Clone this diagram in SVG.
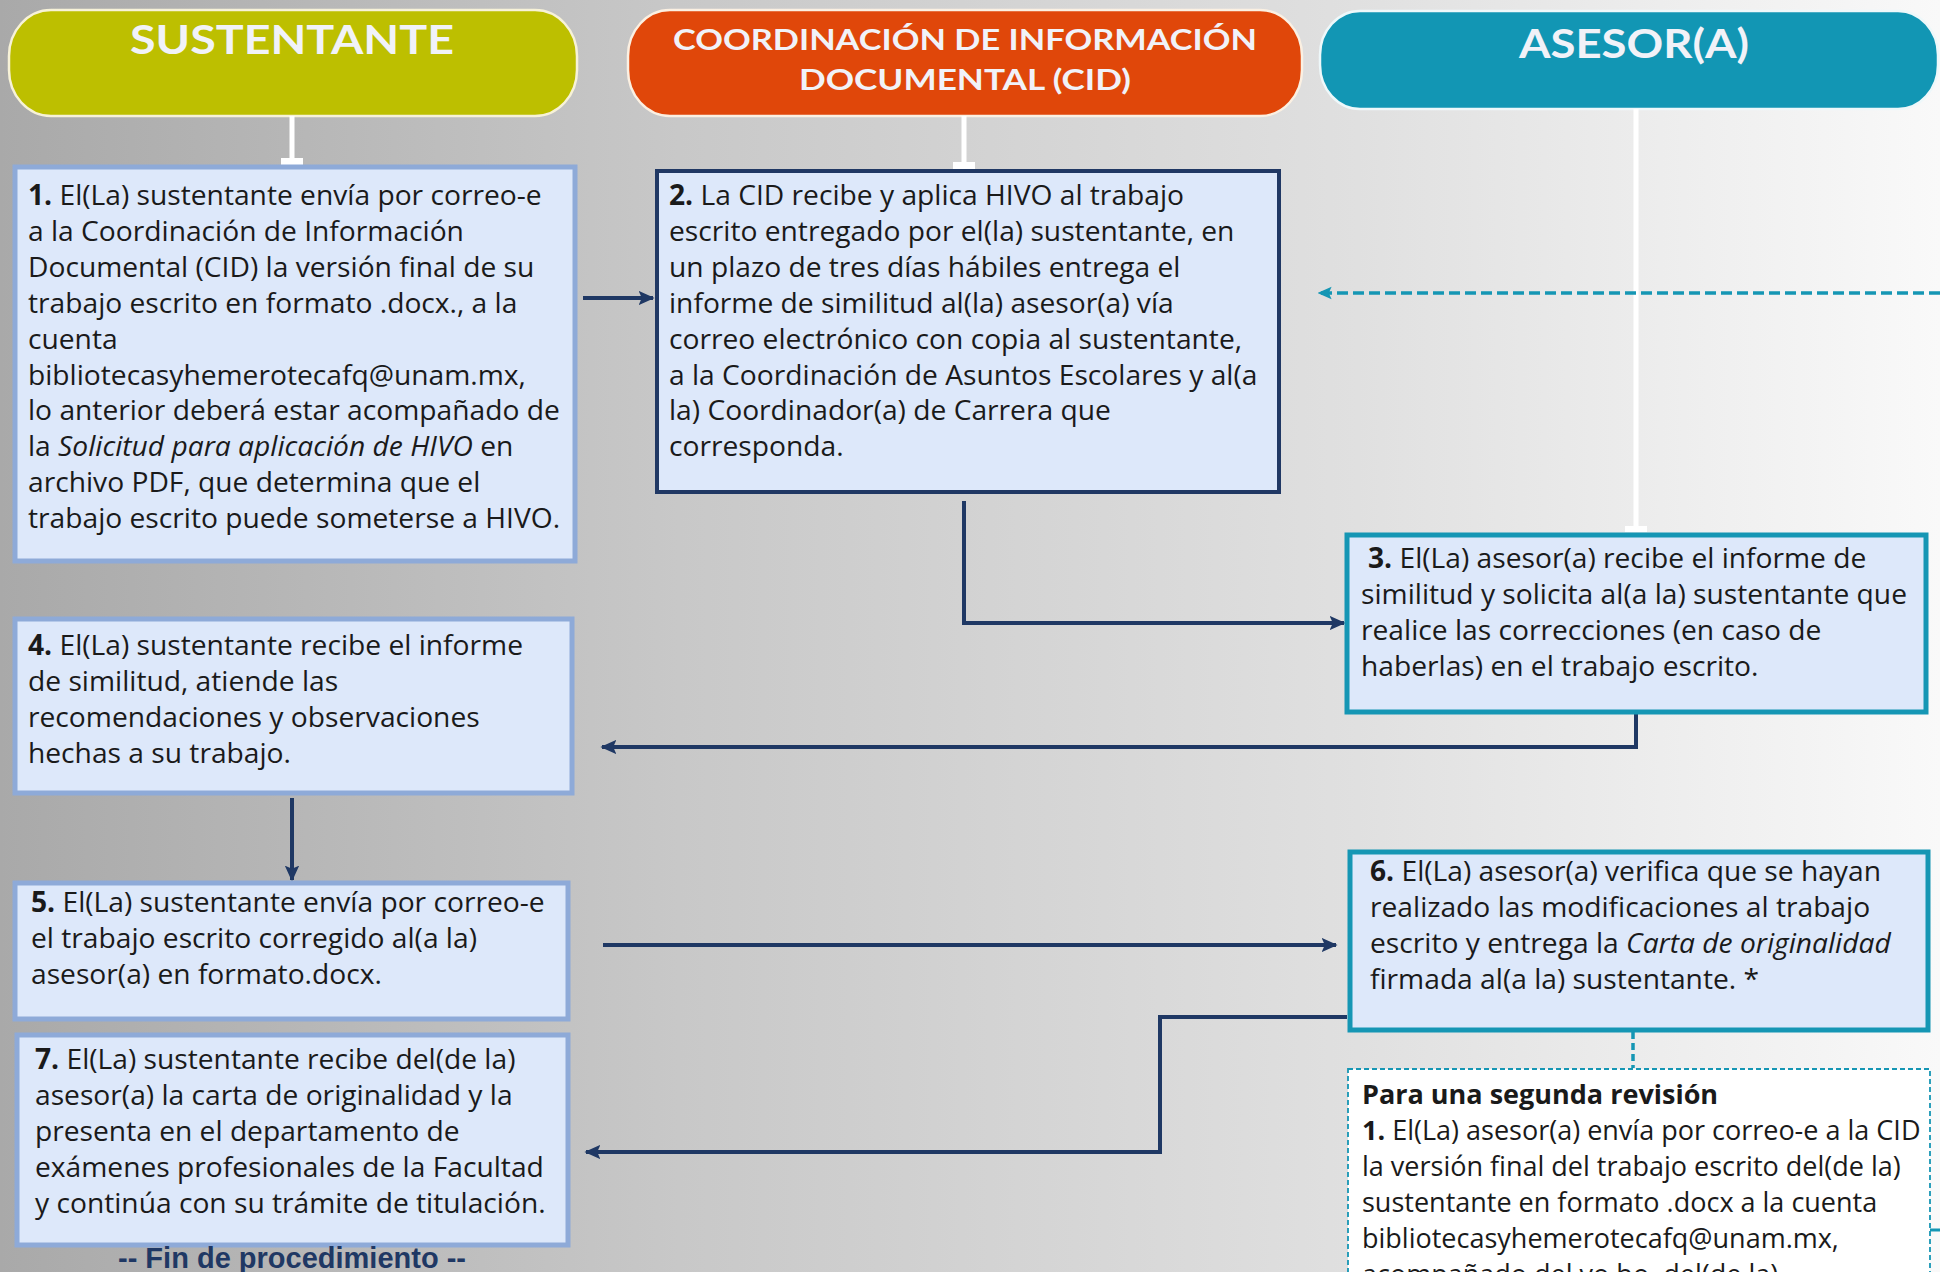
<svg xmlns="http://www.w3.org/2000/svg" width="1940" height="1272" viewBox="0 0 1940 1272">
<defs>
<linearGradient id="bg" x1="0" y1="0" x2="1" y2="0">
<stop offset="0" stop-color="#a9a9a9"/>
<stop offset="0.35" stop-color="#c8c8c8"/>
<stop offset="0.7" stop-color="#e0e0e0"/>
<stop offset="1" stop-color="#f9f9f9"/>
</linearGradient>
<marker id="arr" viewBox="0 0 10 10" refX="9" refY="5" markerWidth="16" markerHeight="16" markerUnits="userSpaceOnUse" orient="auto">
<path d="M0,0.5 L10,5 L0,9.5 L2,5 z" fill="#1f3864"/>
</marker>
<marker id="arrT" viewBox="0 0 10 10" refX="9" refY="5" markerWidth="14" markerHeight="14" markerUnits="userSpaceOnUse" orient="auto">
<path d="M0,0.5 L10,5 L0,9.5 L2,5 z" fill="#1596b4"/>
</marker>
<style>
.hdr{font-family:Lato,"Open Sans",sans-serif;font-weight:700;fill:#f1f2f8}
.t{font-family:"Open Sans","Noto Sans",sans-serif;font-size:28.2px;fill:#1a1a1a}
.s{font-size:27px}
.b{font-weight:700}
.i{font-style:italic}
.box{fill:#dde8fa}
.bl{stroke:#8eaad8;stroke-width:5}
.nv{stroke:#203864;stroke-width:4}
.tl{stroke:#1596b4;stroke-width:5}
.con{fill:none;stroke:#1f3864;stroke-width:4;marker-end:url(#arr)}
.wl{fill:#ffffff}
</style>
</defs>
<rect x="0" y="0" width="1940" height="1272" fill="url(#bg)"/>

<g id="hdr-sustentante">
<rect x="9" y="10" width="568" height="106" rx="42" ry="46" fill="#bdbf00" stroke="#f7f2d8" stroke-width="2.5"/>
<text class="hdr" x="292" y="54" font-size="40" text-anchor="middle" textLength="324" lengthAdjust="spacingAndGlyphs">SUSTENTANTE</text>
</g>
<g id="hdr-cid">
<rect x="628" y="10" width="674" height="106" rx="42" ry="46" fill="#e0470a" stroke="#fbf0e2" stroke-width="2.5"/>
<text class="hdr" x="965" y="50" font-size="29" text-anchor="middle" textLength="584" lengthAdjust="spacingAndGlyphs">COORDINACIÓN DE INFORMACIÓN</text>
<text class="hdr" x="965" y="90" font-size="29" text-anchor="middle" textLength="332" lengthAdjust="spacingAndGlyphs">DOCUMENTAL (CID)</text>
</g>
<g id="hdr-asesor">
<rect x="1320" y="11" width="618" height="98" rx="40" ry="44" fill="#1296b4" stroke="#eef8fa" stroke-width="2.5"/>
<text class="hdr" x="1634" y="58" font-size="40" text-anchor="middle" textLength="230" lengthAdjust="spacingAndGlyphs">ASESOR(A)</text>
</g>

<g id="connectors">
<rect class="wl" x="289.5" y="116" width="5" height="44"/>
<rect class="wl" x="281" y="158" width="22" height="7"/>
<rect class="wl" x="961.5" y="116" width="5" height="48"/>
<rect class="wl" x="953" y="162" width="22" height="7"/>
<rect class="wl" x="1633.5" y="109" width="5" height="421"/>
<rect class="wl" x="1625" y="526" width="22" height="6"/>
<path class="con" d="M583,298 H653"/>
<path class="con" d="M964,501 V623 H1344"/>
<path class="con" d="M1636,713 V747 H602"/>
<path class="con" d="M292,798 V880"/>
<path class="con" d="M603,945 H1336"/>
<path class="con" d="M1347,1017 H1160 V1152 H586"/>
<path d="M1940,293 H1319" fill="none" stroke="#1596b4" stroke-width="3.5" stroke-dasharray="11 5" marker-end="url(#arrT)"/>
<path d="M1633,1032 V1068" fill="none" stroke="#1596b4" stroke-width="3.5" stroke-dasharray="7 4"/>
<path d="M1930,1230 H1940" fill="none" stroke="#1596b4" stroke-width="3"/>
</g>

<g id="step1">
<rect class="box bl" x="15" y="167" width="560" height="394"/>
<text class="t">
<tspan x="28" y="205"><tspan class="b">1.</tspan> El(La) sustentante envía por correo-e</tspan>
<tspan x="28" y="241">a la Coordinación de Información</tspan>
<tspan x="28" y="277">Documental (CID) la versión final de su</tspan>
<tspan x="28" y="313">trabajo escrito en formato .docx., a la</tspan>
<tspan x="28" y="349">cuenta</tspan>
<tspan x="28" y="385">bibliotecasyhemerotecafq@unam.mx,</tspan>
<tspan x="28" y="420">lo anterior deberá estar acompañado de</tspan>
<tspan x="28" y="456">la <tspan class="i">Solicitud para aplicación de HIVO</tspan> en</tspan>
<tspan x="28" y="492">archivo PDF, que determina que el</tspan>
<tspan x="28" y="528">trabajo escrito puede someterse a HIVO.</tspan>
</text>
</g>

<g id="step2">
<rect class="box nv" x="657" y="171" width="622" height="321"/>
<text class="t">
<tspan x="669" y="205"><tspan class="b">2.</tspan> La CID recibe y aplica HIVO al trabajo</tspan>
<tspan x="669" y="241">escrito entregado por el(la) sustentante, en</tspan>
<tspan x="669" y="277">un plazo de tres días hábiles entrega el</tspan>
<tspan x="669" y="313">informe de similitud al(la) asesor(a) vía</tspan>
<tspan x="669" y="349">correo electrónico con copia al sustentante,</tspan>
<tspan x="669" y="385">a la Coordinación de Asuntos Escolares y al(a</tspan>
<tspan x="669" y="420">la) Coordinador(a) de Carrera que</tspan>
<tspan x="669" y="456">corresponda.</tspan>
</text>
</g>

<g id="step3">
<rect class="box tl" x="1347" y="535" width="579" height="177"/>
<text class="t">
<tspan x="1368" y="568"><tspan class="b">3.</tspan> El(La) asesor(a) recibe el informe de</tspan>
<tspan x="1361" y="604">similitud y solicita al(a la) sustentante que</tspan>
<tspan x="1361" y="640">realice las correcciones (en caso de</tspan>
<tspan x="1361" y="676">haberlas) en el trabajo escrito.</tspan>
</text>
</g>

<g id="step4">
<rect class="box bl" x="15" y="619" width="557" height="174"/>
<text class="t">
<tspan x="28" y="655"><tspan class="b">4.</tspan> El(La) sustentante recibe el informe</tspan>
<tspan x="28" y="691">de similitud, atiende las</tspan>
<tspan x="28" y="727">recomendaciones y observaciones</tspan>
<tspan x="28" y="763">hechas a su trabajo.</tspan>
</text>
</g>

<g id="step5">
<rect class="box bl" x="15" y="883" width="553" height="136"/>
<text class="t">
<tspan x="31" y="912"><tspan class="b">5.</tspan> El(La) sustentante envía por correo-e</tspan>
<tspan x="31" y="948">el trabajo escrito corregido al(a la)</tspan>
<tspan x="31" y="984">asesor(a) en formato.docx.</tspan>
</text>
</g>

<g id="step6">
<rect class="box tl" x="1350" y="852" width="578" height="178"/>
<text class="t">
<tspan x="1370" y="881"><tspan class="b">6.</tspan> El(La) asesor(a) verifica que se hayan</tspan>
<tspan x="1370" y="917">realizado las modificaciones al trabajo</tspan>
<tspan x="1370" y="953">escrito y entrega la <tspan class="i">Carta de originalidad</tspan></tspan>
<tspan x="1370" y="989">firmada al(a la) sustentante. *</tspan>
</text>
</g>

<g id="step7">
<rect class="box bl" x="17" y="1035" width="551" height="210"/>
<text class="t">
<tspan x="35" y="1069"><tspan class="b">7.</tspan> El(La) sustentante recibe del(de la)</tspan>
<tspan x="35" y="1105">asesor(a) la carta de originalidad y la</tspan>
<tspan x="35" y="1141">presenta en el departamento de</tspan>
<tspan x="35" y="1177">exámenes profesionales de la Facultad</tspan>
<tspan x="35" y="1213">y continúa con su trámite de titulación.</tspan>
</text>
</g>

<g id="fin">
<text x="292" y="1268" text-anchor="middle" font-family="'Liberation Sans',Arial,sans-serif" font-weight="700" font-size="29" fill="#1f3864">-- Fin de procedimiento --</text>
</g>

<g id="segunda-revision">
<rect x="1348" y="1069" width="582" height="260" fill="#ffffff" stroke="#1596b4" stroke-width="1.8" stroke-dasharray="5 3"/>
<text class="t s">
<tspan x="1362" y="1104" class="b">Para una segunda revisión</tspan>
<tspan x="1362" y="1140"><tspan class="b">1.</tspan> El(La) asesor(a) envía por correo-e a la CID</tspan>
<tspan x="1362" y="1176">la versión final del trabajo escrito del(de la)</tspan>
<tspan x="1362" y="1212">sustentante en formato .docx a la cuenta</tspan>
<tspan x="1362" y="1248">bibliotecasyhemerotecafq@unam.mx,</tspan>
<tspan x="1362" y="1284">acompañado del vo.bo. del(de la)</tspan>
</text>
</g>
</svg>
